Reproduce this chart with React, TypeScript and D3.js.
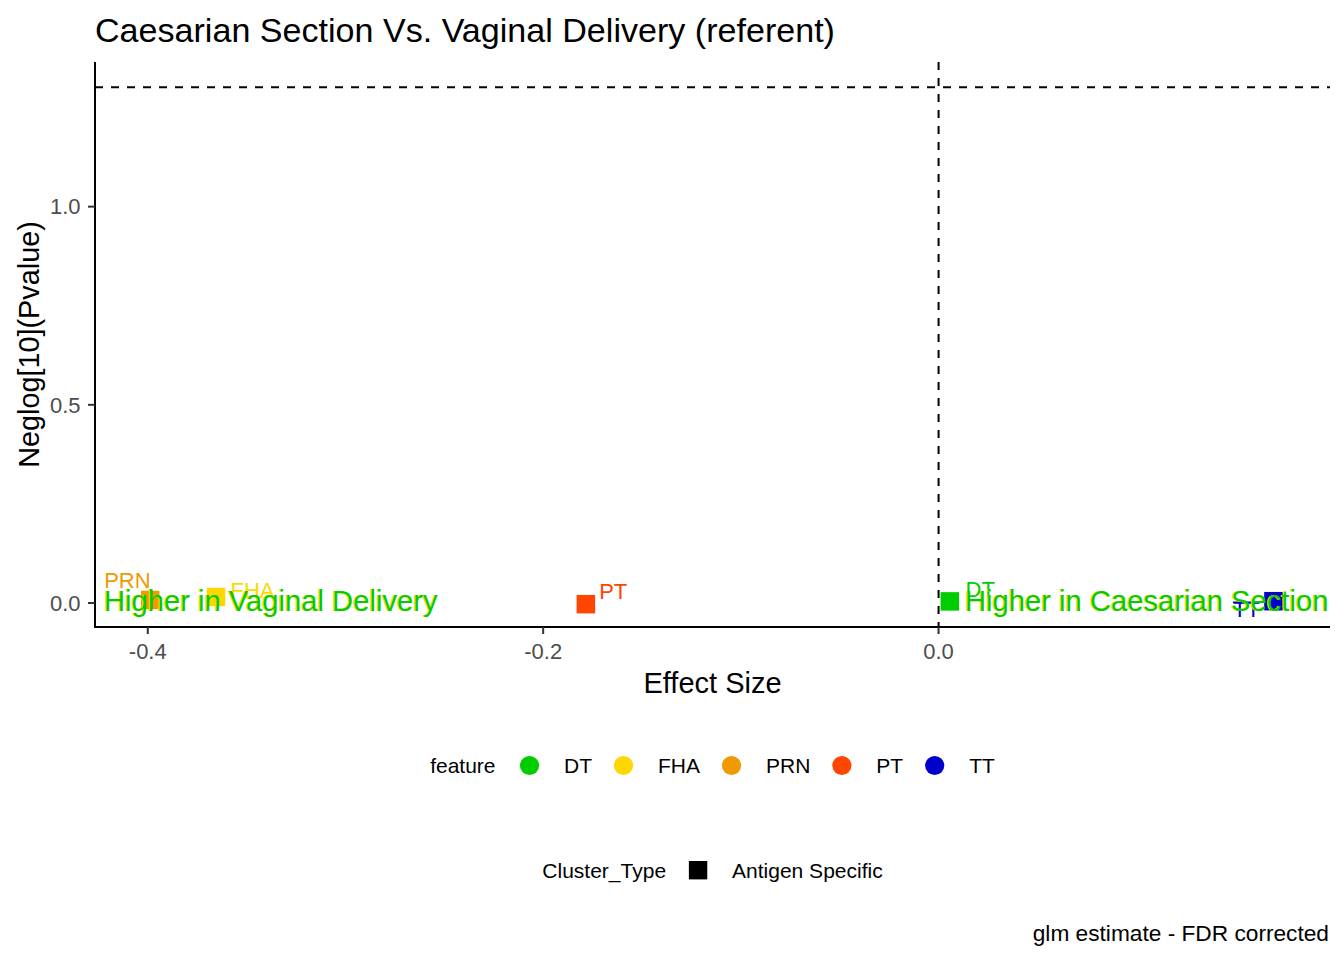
import React from "react";
import * as d3 from "d3";

const features = ["DT", "FHA", "PRN", "PT", "TT"];
const effectSize = [0.0057, -0.3655, -0.3988, -0.1784, 0.1694];
const negLogP = [0.004, 0.015, 0.0076, -0.003, 0.0045];
const featureColors = ["#00CD00", "#FFD700", "#EE9A00", "#FF4500", "#0000CD"];
const labelDx = [15.7, 14.5, -46, 13.3, -40.5];
const labelDy = [-4.5, 1, -12, -5.5, 16];

const xTicks = [-0.4, -0.2, 0.0];
const yTicks = [0.0, 0.5, 1.0];
const xDomain = [-0.4267, 0.198];
const yDomain = [-0.0606, 1.365];
const pThreshold = -Math.log10(0.05);
const vLineX = 0;

const annotations = ["Higher in Vaginal Delivery", "Higher in Caesarian Section"];
const annotationX = [-0.4222, 0.1972];
const annotationAnchor = ["start", "end"];

const clusterTypes = ["Antigen Specific"];

const title = "Caesarian Section Vs. Vaginal Delivery (referent)";
const xTitle = "Effect Size";
const yTitle = "Neglog[10](Pvalue)";
const caption = "glm estimate - FDR corrected";

const FONT = "'Liberation Sans', Arial, sans-serif";

function measure(text: string, size: number): number {
  const c = document.createElement("canvas");
  const ctx = c.getContext("2d");
  if (!ctx) return text.length * size * 0.55;
  ctx.font = `${size}px ${FONT}`;
  return ctx.measureText(text).width;
}

const fmt = (t: number) => d3.format(".1f")(t).replace("\u2212", "-");

export default function App() {
  const W = 1344;
  const H = 960;
  const left = 95, right = 1330, top = 62, bottom = 627;
  const x = d3.scaleLinear().domain(xDomain).range([left, right]);
  const y = d3.scaleLinear().domain(yDomain).range([bottom, top]);
  const cx = (left + right) / 2;
  const sq = 18.5;

  const legSize = 21;
  const titleGap = 34;
  const keyToLabel = 34.5;
  const labelToKey = 31.5;
  const featTitleW = measure("feature", legSize);
  let total = featTitleW;
  const keyCenters: number[] = [];
  let pos = featTitleW + titleGap;
  features.forEach((f) => {
    keyCenters.push(pos);
    const lw = measure(f, legSize);
    const end = pos + keyToLabel + lw;
    total = end;
    pos = end + labelToKey;
  });
  const leg1Start = cx - total / 2;

  const ctTitleW = measure("Cluster_Type", legSize);
  const ctKey = ctTitleW + 32;
  const ctLabelW = measure(clusterTypes[0], legSize);
  const ctTotal = ctKey + 34 + ctLabelW;
  const leg2Start = cx - ctTotal / 2;

  const segIdx = 4;

  return (
    <svg
      width={W}
      height={H}
      style={{ position: "absolute", left: 0, top: 0, background: "#fff" }}
      fontFamily={FONT}
    >
      <rect x={0} y={0} width={W} height={H} fill="#fff" />
      <text x={95} y={41.5} fontSize={34.1} fill="#000">{title}</text>

      <line x1={left} x2={right} y1={y(pThreshold)} y2={y(pThreshold)} stroke="#000" strokeWidth={2} strokeDasharray="8,8" />
      <line x1={x(vLineX)} x2={x(vLineX)} y1={top} y2={bottom} stroke="#000" strokeWidth={2} strokeDasharray="8,8" />

      {features.map((f, i) => (
        <rect
          key={f}
          x={x(effectSize[i]) - sq / 2}
          y={y(negLogP[i]) - sq / 2}
          width={sq}
          height={sq}
          fill={featureColors[i]}
        />
      ))}

      <line
        x1={x(effectSize[segIdx]) + labelDx[segIdx]}
        x2={x(effectSize[segIdx]) - sq / 2}
        y1={y(negLogP[segIdx]) + 1}
        y2={y(negLogP[segIdx]) + 1}
        stroke={featureColors[segIdx]}
        strokeWidth={1.5}
      />

      {features.map((f, i) => (
        <text
          key={"l" + f}
          x={x(effectSize[i]) + labelDx[i]}
          y={y(negLogP[i]) + labelDy[i]}
          fontSize={22}
          fill={featureColors[i]}
        >
          {f}
        </text>
      ))}

      {annotations.map((a, i) => (
        <g key={a}>
          <text x={x(annotationX[i]) - 1} y={y(0) + 7.8} fontSize={29.2} fill="#FFD700" textAnchor={annotationAnchor[i] as any}>{a}</text>
          <text x={x(annotationX[i])} y={y(0) + 7.8} fontSize={29.2} fill="#00CD00" textAnchor={annotationAnchor[i] as any}>{a}</text>
        </g>
      ))}

      <line x1={left} x2={left} y1={top} y2={bottom + 1} stroke="#000" strokeWidth={2} />
      <line x1={left - 1} x2={right} y1={bottom} y2={bottom} stroke="#000" strokeWidth={2} />
      {yTicks.map((t) => (
        <g key={"y" + t}>
          <line x1={left - 7} x2={left} y1={y(t)} y2={y(t)} stroke="#333333" strokeWidth={2} />
          <text x={80.5} y={y(t) + 7.7} fontSize={22} fill="#4D4D4D" textAnchor="end">{fmt(t)}</text>
        </g>
      ))}
      {xTicks.map((t) => (
        <g key={"x" + t}>
          <line x1={x(t)} x2={x(t)} y1={bottom} y2={bottom + 7} stroke="#333333" strokeWidth={2} />
          <text x={x(t)} y={659} fontSize={22} fill="#4D4D4D" textAnchor="middle">{fmt(t)}</text>
        </g>
      ))}

      <text x={cx} y={693} fontSize={29} fill="#000" textAnchor="middle">{xTitle}</text>
      <text
        transform={`translate(38.5,${(top + bottom) / 2}) rotate(-90)`}
        fontSize={28.8}
        fill="#000"
        textAnchor="middle"
      >
        {yTitle}
      </text>

      <g transform={`translate(${leg1Start},0)`}>
        <text x={0} y={773.3} fontSize={legSize} fill="#000">feature</text>
        {features.map((f, i) => (
          <g key={"lg" + f}>
            <circle cx={keyCenters[i]} cy={765.5} r={9.6} fill={featureColors[i]} />
            <text x={keyCenters[i] + keyToLabel} y={773.3} fontSize={legSize} fill="#000">{f}</text>
          </g>
        ))}
      </g>

      <g transform={`translate(${leg2Start},0)`}>
        <text x={0} y={877.7} fontSize={legSize} fill="#000">Cluster_Type</text>
        <rect x={ctKey - 9.2} y={861} width={18.4} height={18.4} fill="#000" />
        <text x={ctKey + 34} y={877.7} fontSize={legSize} fill="#000">{clusterTypes[0]}</text>
      </g>

      <text x={1329} y={941} fontSize={22.7} fill="#000" textAnchor="end">{caption}</text>
    </svg>
  );
}
